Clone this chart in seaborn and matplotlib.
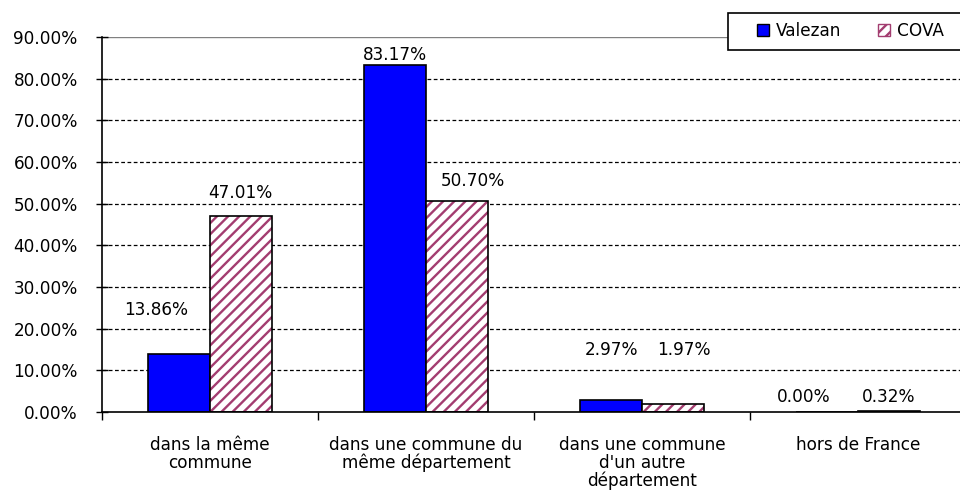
import pandas as pd
import numpy as np
import matplotlib.pyplot as plt
import seaborn as sns
from matplotlib.patches import Patch, Rectangle

categories = ["dans la même\ncommune", "dans une commune du\nmême département",
              "dans une commune\nd'un autre\ndépartement", "hors de France"]
valezan = [13.86, 83.17, 2.97, 0.00]
cova = [47.01, 50.70, 1.97, 0.32]
# position des étiquettes (comme dans Excel, placées au-dessus)
label_y_valezan = [24.5, 85.7, 14.9, 3.6]
label_y_cova = [52.6, 55.4, 14.9, 3.6]
label_dx_valezan = [-0.106, 0.0, 0.0, -0.11]
label_dx_cova = [0.0, 0.074, 0.05, 0.0]

tabela = pd.DataFrame({
    "categorie": categories * 2,
    "valeur": valezan + cova,
    "serie": ["Valezan"] * 4 + ["COVA"] * 4,
})

sns.set_theme(style='white')
plt.rcParams['font.family'] = ['DejaVu Sans']
plt.rcParams['text.color'] = 'black'
plt.rcParams['xtick.color'] = 'black'
plt.rcParams['ytick.color'] = 'black'
plt.rcParams['hatch.linewidth'] = 1.7
fs = 12.2
maroon = '#a33d70'

fig = plt.figure(figsize=(9.6, 4.99), dpi=100)
ax = fig.add_axes([102 / 960, 87 / 499, 864 / 960, 375 / 499])

sns.barplot(data=tabela, x="categorie", y="valeur", hue="serie",
            palette={"Valezan": "#0000ff", "COVA": "white"}, saturation=1,
            width=0.57, gap=0, edgecolor='black', linewidth=1.2,
            legend=False, ax=ax)

n = len(categories)
for i, p in enumerate(list(ax.patches[:2 * n])):
    if i >= n:
        p.set_hatch('///')
        p.set_facecolor('white')
        p.set_edgecolor(maroon)
        p.set_linewidth(0)
        ax.add_patch(Rectangle(p.get_xy(), p.get_width(), p.get_height(),
                               fill=False, edgecolor='black', linewidth=1.2, zorder=p.get_zorder() + 0.1))
    else:
        p.set_edgecolor('black')

for i in range(n):
    ax.text(i - 0.1425 + label_dx_valezan[i], label_y_valezan[i], f"{valezan[i]:.2f}%",
            ha='center', va='center', fontsize=fs)
    ax.text(i + 0.1425 + label_dx_cova[i], label_y_cova[i], f"{cova[i]:.2f}%",
            ha='center', va='center', fontsize=fs)

ax.set_xlim(-0.5, n - 0.5)
ax.set_ylim(0, 90)
ax.set_yticks(np.arange(0, 91, 10))
ax.set_yticklabels([f"{v:.2f}%" for v in np.arange(0, 91, 10)], fontsize=fs)
for v in np.arange(10, 90, 10):
    ax.axhline(v, color='black', linestyle=(0, (3, 2)), linewidth=0.9, zorder=0)
ax.axhline(90, color='#808080', linewidth=1, zorder=0)

ax.set_xticks(range(n))
ax.set_xticklabels(categories, fontsize=fs, linespacing=1.0)
ax.set_xticks(np.arange(-0.5, n, 1), minor=True)
ax.tick_params(axis='x', which='major', length=0, pad=17)
ax.tick_params(axis='x', which='minor', length=6, width=1, color='black', direction='out', bottom=True)
ax.tick_params(axis='y', length=9, width=1, color='black', direction='inout', left=True, pad=13)
ax.set_xlabel("")
ax.set_ylabel("")

for s in ['top', 'right']:
    ax.spines[s].set_visible(False)
for s in ['left', 'bottom']:
    ax.spines[s].set_color('black')
    ax.spines[s].set_linewidth(1.2)

# cadre de la légende
fig.patches.append(Rectangle((728 / 960, 1 - 50 / 499), 240 / 960, 37 / 499,
                             transform=fig.transFigure, facecolor='white',
                             edgecolor='black', linewidth=1.2, zorder=5))
handles = [Patch(facecolor='#0000ff', edgecolor='black', label='Valezan'),
           Patch(facecolor='white', edgecolor=maroon, hatch='///', label='COVA')]
leg = fig.legend(handles=handles, loc='center left', bbox_to_anchor=(757 / 960, 1 - 31 / 499),
                 ncol=2, fontsize=fs, frameon=False, handlelength=0.7,
                 handleheight=0.7, handletextpad=0.4, columnspacing=2.2, borderpad=0,
                 borderaxespad=0)
leg.set_zorder(6)

fig.savefig("out.png", dpi=100)
